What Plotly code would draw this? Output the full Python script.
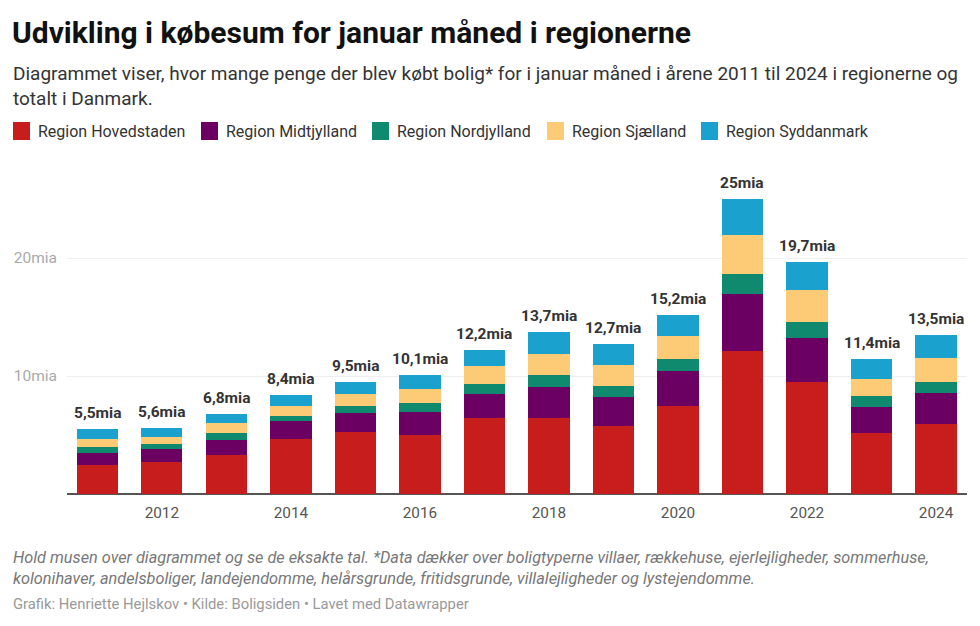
import plotly.graph_objects as go

years = list(range(2011, 2025))
regions = ["Region Hovedstaden", "Region Midtjylland", "Region Nordjylland",
           "Region Sjælland", "Region Syddanmark"]
hovedstaden = [2.43, 2.68, 3.31, 4.63, 5.28, 4.97, 6.41, 6.47, 5.76, 7.46, 12.15, 9.50, 5.16, 5.90]
midtjylland = [1.07, 1.13, 1.27, 1.56, 1.56, 2.01, 2.10, 2.63, 2.50, 2.95, 4.78, 3.72, 2.18, 2.64]
nordjylland = [0.46, 0.43, 0.56, 0.45, 0.62, 0.76, 0.78, 0.98, 0.91, 1.01, 1.69, 1.35, 0.95, 0.92]
sjaelland = [0.67, 0.62, 0.85, 0.82, 0.99, 1.13, 1.60, 1.77, 1.76, 1.93, 3.35, 2.68, 1.47, 2.03]
syddanmark = [0.87, 0.74, 0.81, 0.94, 1.05, 1.23, 1.31, 1.85, 1.77, 1.85, 3.03, 2.45, 1.64, 2.01]
total_labels = ["5,5mia", "5,6mia", "6,8mia", "8,4mia", "9,5mia", "10,1mia", "12,2mia",
                "13,7mia", "12,7mia", "15,2mia", "25mia", "19,7mia", "11,4mia", "13,5mia"]
y_tick_vals = [10, 20]
y_tick_text = ["10mia", "20mia"]

series = [hovedstaden, midtjylland, nordjylland, sjaelland, syddanmark]
colors = ["#c71e1d", "#6b0062", "#0f8a6e", "#fdca76", "#1ba1cd"]

W, H = 980, 626
L, R, T, B = 67, 13, 160, 132
PW, PH = W - L - R, H - T - B

def px_x(px):
    return (px - L) / PW

def px_y(py):
    return (H - B - py) / PH

fig = go.Figure()
for name, vals, col in zip(regions, series, colors):
    fig.add_trace(go.Bar(x=years, y=vals, name=name, marker_color=col,
                         marker_line_width=0, showlegend=False))

totals = [sum(v) for v in zip(*series)]
for yr, tot, lab in zip(years, totals, total_labels):
    fig.add_annotation(x=yr, y=tot, text="<b>" + lab + "</b>", showarrow=False,
                       yanchor="bottom", yshift=5,
                       font=dict(family="Roboto", size=15.5, color="#333333"))

# manual legend
legend_x = [13, 201, 372, 547, 701]
for name, col, lx in zip(regions, colors, legend_x):
    fig.add_shape(type="rect", xref="paper", yref="paper",
                  x0=px_x(lx), x1=px_x(lx + 17), y0=px_y(140), y1=px_y(122),
                  fillcolor=col, line_width=0)
    fig.add_annotation(xref="paper", yref="paper", x=px_x(lx + 23), y=px_y(131),
                       text=name, showarrow=False, xanchor="left", yanchor="middle",
                       font=dict(family="Roboto", size=16, color="#333333"))

# subtitle
fig.add_annotation(xref="paper", yref="paper", x=px_x(11), y=px_y(86),
                   text="Diagrammet viser, hvor mange penge der blev købt bolig* for i januar måned i årene 2011 til 2024 i regionerne og<br>totalt i Danmark.",
                   showarrow=False, xanchor="left", yanchor="middle", align="left",
                   font=dict(family="Roboto", size=19, color="#333333"))

# notes
fig.add_annotation(xref="paper", yref="paper", x=px_x(11), y=px_y(567.5),
                   text="<i>Hold musen over diagrammet og se de eksakte tal. *Data dækker over boligtyperne villaer, rækkehuse, ejerlejligheder, sommerhuse,<br>kolonihaver, andelsboliger, landejendomme, helårsgrunde, fritidsgrunde, villalejligheder og lystejendomme.</i>",
                   showarrow=False, xanchor="left", yanchor="middle", align="left",
                   font=dict(family="Roboto", size=16.3, color="#777777"))
fig.add_annotation(xref="paper", yref="paper", x=px_x(11), y=px_y(604),
                   text="Grafik: Henriette Hejlskov • Kilde: Boligsiden • Lavet med Datawrapper",
                   showarrow=False, xanchor="left", yanchor="middle", align="left",
                   font=dict(family="Roboto", size=14.8, color="#999999"))

fig.update_layout(
    width=W, height=H,
    margin=dict(l=L, r=R, t=T, b=B),
    barmode="stack", bargap=0.36,
    paper_bgcolor="white", plot_bgcolor="white",
    font=dict(family="Roboto"),
    title=dict(text="<b>Udvikling i købesum for januar måned i regionerne</b>",
               xref="container", yref="container", x=12 / W, y=1 - 32 / H,
               xanchor="left", yanchor="middle",
               font=dict(family="Roboto", size=30, color="#111111")),
    xaxis=dict(range=[2010.53, 2024.48], tickmode="array",
               tickvals=years[1::2], ticktext=[str(y) for y in years[1::2]],
               showgrid=False, zeroline=False, showline=False, ticks="",
               ticklabelstandoff=8,
               tickfont=dict(family="Roboto", size=15.3, color="#555555")),
    yaxis=dict(range=[0, (H - B - T) / 11.8], tickmode="array",
               tickvals=y_tick_vals, ticktext=y_tick_text,
               showgrid=True, gridcolor="#eeeeee", gridwidth=1,
               zeroline=True, zerolinecolor="#555555", zerolinewidth=2,
               showline=False, ticks="", ticklabelstandoff=9,
               tickfont=dict(family="Roboto", size=15.5, color="#aaaaaa")),
)

fig.write_html("out.html")
